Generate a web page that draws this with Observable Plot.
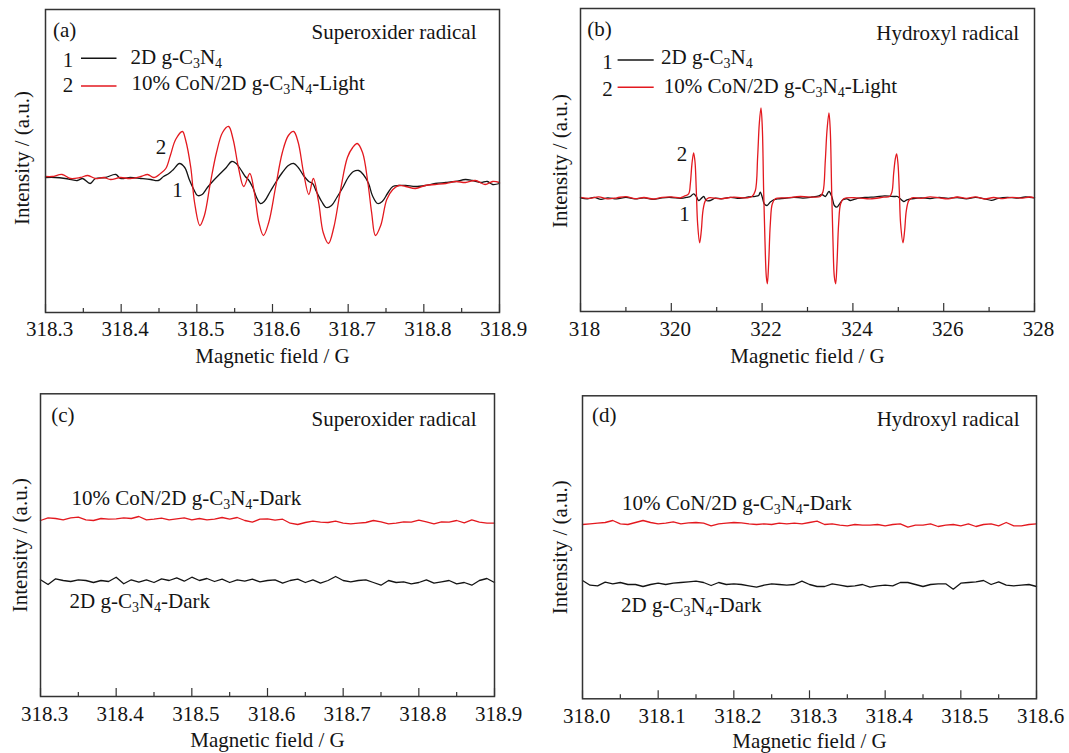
<!DOCTYPE html>
<html><head><meta charset="utf-8">
<script src="https://cdn.jsdelivr.net/npm/d3@7"></script>
<script src="https://cdn.jsdelivr.net/npm/@observablehq/plot@0.6"></script>
<style>
html,body{margin:0;padding:0;background:#fff;}
#root{position:relative;width:1069px;height:753px;overflow:hidden;background:#fff;}
#root > div{position:absolute;}
</style></head><body><div id="root"></div>
<script>
// ---------- Panel (a): superoxide radical, light ----------
const aRedField = [318.300,318.309,318.322,318.333,318.346,318.356,318.366,318.377,318.386,318.399,318.412,318.426,318.435,318.443,318.452,318.459,318.465,318.472,318.481,318.485,318.492,318.497,318.504,318.510,318.518,318.526,318.534,318.542,318.548,318.555,318.562,318.570,318.576,318.582,318.588,318.595,318.604,318.613,318.621,318.628,318.634,318.641,318.648,318.654,318.661,318.667,318.674,318.681,318.690,318.699,318.706,318.712,318.719,318.726,318.731,318.736,318.743,318.751,318.759,318.767,318.776,318.789,318.802,318.815,318.829,318.842,318.855,318.868,318.881,318.891,318.900];
const aRed = [1,1,3,-1,0,2,-1,0,-2,0,-1,1,3,0,4,9,22,38,46,38,10,-25,-48,-38,-5,25,45,51,38,10,-9,4,-15,-45,-58,-45,-10,25,42,46,35,5,-17,-1,-25,-55,-66,-50,-12,20,30,34,25,-5,-35,-58,-48,-22,-12,-8,-9,-11,-8,-7,-6,-4,-5,-3,-7,-4,-5];
const aBlackField = [318.300,318.313,318.326,318.342,318.349,318.359,318.366,318.379,318.393,318.399,318.412,318.426,318.439,318.449,318.456,318.463,318.469,318.477,318.484,318.490,318.496,318.501,318.507,318.514,318.522,318.531,318.539,318.546,318.552,318.558,318.564,318.568,318.574,318.579,318.584,318.589,318.597,318.605,318.613,318.621,318.628,318.634,318.641,318.648,318.653,318.658,318.665,318.671,318.678,318.685,318.693,318.700,318.707,318.714,318.720,318.727,318.732,318.739,318.745,318.752,318.759,318.767,318.776,318.789,318.802,318.815,318.829,318.842,318.855,318.864,318.875,318.884,318.891,318.900];
const aBlack = [0,0,-1,-3,-1,-6,-1,0,3,-1,0,-1,-2,-3,1,4,8,14,10,-2,-12,-18,-17,-10,-3,4,10,16,14,8,1,-2,-10,-20,-26,-24,-14,-4,5,12,14,10,2,-4,-6,-14,-24,-30,-28,-20,-10,0,6,7,3,-6,-18,-26,-24,-16,-9,-8,-8,-9,-8,-6,-5,-4,-2,-3,-5,-4,-7,-6];
const aCurveLabels = [{x: 318.4526, y: 30, label: "2"}, {x: 318.4745, y: -13, label: "1"}];

// ---------- Panel (b): hydroxyl radical, light ----------
const bRedField = [318.0,318.2,318.4,318.6,318.8,319.0,319.2,319.4,319.6,319.8,320.0,320.2,320.272,320.382,320.419,320.455,320.492,320.522,320.551,320.580,320.624,320.661,320.697,320.749,320.822,321.079,321.373,321.667,321.777,321.850,321.902,321.938,321.975,322.004,322.034,322.063,322.093,322.115,322.144,322.181,322.225,322.291,322.548,322.841,323.135,323.282,323.341,323.392,323.429,323.473,323.502,323.532,323.561,323.591,323.620,323.649,323.686,323.730,323.796,324.089,324.383,324.677,324.809,324.861,324.897,324.934,324.963,324.993,325.022,325.051,325.103,325.139,325.176,325.228,325.301,325.5,325.7,325.9,326.1,326.3,326.5,326.7,326.9,327.1,327.3,327.5,327.7,327.9,328.0];
const bRed = [0.5,-0.5,1,-1,0,1.2,-0.8,0.3,-1.2,0.5,1,0,1.3,4,14,34,45,36,7,-26,-45,-33,-13,-3,0,-1,0.6,0,1.3,7,41,74,90,71,7,-43,-79,-86,-66,-26,-6,-1,0,1.3,0.6,1.3,6,37,67,85,67,7,-43,-79,-86,-66,-26,-6,-1,0,-1,0.6,1.3,6,24,39,44,34,7,-26,-45,-33,-13,-3,0,-0.5,1,0,-1,0.8,-0.5,1,-1.2,0.3,-0.8,0.5,-0.3,0.8,0];
const bBlackField = [318.0,318.15,318.3,318.45,318.6,318.8,319.0,319.2,319.4,319.6,319.8,320.0,320.2,320.35,320.419,320.492,320.551,320.602,320.654,320.712,320.771,320.859,320.969,321.1,321.3,321.5,321.7,321.85,321.924,321.960,322.004,322.048,322.107,322.181,322.254,322.342,322.5,322.7,322.9,323.1,323.25,323.319,323.392,323.473,323.539,323.591,323.649,323.708,323.781,323.869,323.943,324.1,324.3,324.5,324.7,324.85,324.934,324.985,325.044,325.117,325.191,325.3,325.5,325.7,325.9,326.1,326.3,326.5,326.7,326.9,327.05,327.2,327.4,327.6,327.8,328.0];
const bBlack = [0,-1,0.5,-1.5,0,-1,0.5,-1,0,-1.5,0,0.3,-0.5,0.5,1.3,4,1.3,-2.7,-1,1.3,-2.7,-2.7,-0.3,-1,0.5,-0.5,0.8,1.5,2.3,5.6,0.6,-6,-7.7,-4.3,-2,-1,-0.5,0.5,-0.3,0.8,2,3.3,1.3,6.3,0.6,-7.7,-9.3,-6,-2,-1,-2.7,-0.5,0.5,1,2,1.5,1.3,1.3,-1,-3.7,-2,-1,0,-0.8,0.5,-0.5,0.3,-1,0.5,-1,-2.5,-0.5,0.5,-0.3,0.8,0];
const bCurveLabels = [{x: 320.236, y: 44, label: "2"}, {x: 320.293, y: -16.7, label: "1"}];

// ---------- Panel (c): superoxide radical, dark ----------
const cField = [318.30,318.31,318.32,318.33,318.34,318.35,318.36,318.37,318.38,318.39,318.40,318.41,318.42,318.43,318.44,318.45,318.46,318.47,318.48,318.49,318.50,318.51,318.52,318.53,318.54,318.55,318.56,318.57,318.58,318.59,318.60,318.61,318.62,318.63,318.64,318.65,318.66,318.67,318.68,318.69,318.70,318.71,318.72,318.73,318.74,318.75,318.76,318.77,318.78,318.79,318.80,318.81,318.82,318.83,318.84,318.85,318.86,318.87,318.88,318.89,318.90];
const cRed = [176,178.7,178,176.7,178.7,179.3,176.7,176,178,177.3,177.7,178.7,178,180,176.7,177.3,178.3,176.7,177.7,178.7,176.7,178,176.7,177.3,179,177.3,179,176,174.3,177.3,177.7,176.3,177.3,173.3,172,174,175.3,174.3,174,175.3,173.3,172.7,173.3,174,176,174.7,172.7,173.3,174.7,174.3,176.3,174.7,172.7,174.7,174.3,176,173.7,176.7,174.3,173.3,173.3];
const cBlack = [116.7,112,117.7,116,115,116.7,116,114,116,115,119.3,112.7,116.7,114.3,116.7,114,117.7,116,118.7,115.3,119.3,116,118,115,117.3,114,116.7,115.3,117.3,114.7,116,116.7,113.3,116,117.3,114,116.7,113.3,116,120,116,114.7,116,116.7,114,111.3,116,114,114.7,112.7,114,116.7,113.3,114.7,116,112.7,114,111.3,116,118,114];

// ---------- Panel (d): hydroxyl radical, dark ----------
const dField = [318.00,318.01,318.02,318.03,318.04,318.05,318.06,318.07,318.08,318.09,318.10,318.11,318.12,318.13,318.14,318.15,318.16,318.17,318.18,318.19,318.20,318.21,318.22,318.23,318.24,318.25,318.26,318.27,318.28,318.29,318.30,318.31,318.32,318.33,318.34,318.35,318.36,318.37,318.38,318.39,318.40,318.41,318.42,318.43,318.44,318.45,318.46,318.47,318.48,318.49,318.50,318.51,318.52,318.53,318.54,318.55,318.56,318.57,318.58,318.59,318.60];
const dRed = [174.3,175,175.6,176.3,178.3,175,174.3,176.3,178.3,176.3,175,175.6,177,175,176,176.3,175.6,173,175,175.6,176.3,176,175,174.3,175,174.3,175.6,175,175.6,175,176.3,177.6,174.3,175,173.6,173,174.3,173.6,173.6,174.3,173,174.3,175,171.6,173.6,173.6,175,172.3,173.6,174.3,173,175,172.3,174.3,175,173,176.3,173,173,174.3,175];
const dBlack = [118.3,113.6,113,116.6,115,116.3,114.3,114.3,112.3,114.3,115.6,114.3,115.6,116.3,117,117.6,116.3,113.3,116.3,114.3,115,114.3,113,111.6,113.6,115,114.3,113.6,114.3,117.6,114.3,112.3,112.3,115,113.6,112.3,113,114.3,111.6,113,113.6,113,116.3,116.3,114.3,112.3,114.3,115,115,109.6,115.6,116.3,117,118.3,114.3,117,113.6,113,113.6,114.3,112.3];

// ---------- Axis ticks ----------
const acMajor = [318.3,318.4,318.5,318.6,318.7,318.8,318.9];
const acMinor = [318.35,318.45,318.55,318.65,318.75,318.85];
const bMajor = [318,320,322,324,326,328];
const bMinor = [319,321,323,325,327];
const dMajor = [318.0,318.1,318.2,318.3,318.4,318.5,318.6];
const dMinor = [318.05,318.15,318.25,318.35,318.45,318.55];

// ---------- Texts ----------
const S1 = "2D g-C_3N_4";
const S2 = "10% CoN/2D g-C_3N_4-Light";
const S3 = "10% CoN/2D g-C_3N_4-Dark";
const S4 = "2D g-C_3N_4-Dark";
const YLAB = "Intensity / (a.u.)";
const XLAB = "Magnetic field / G";

const RED = "#e3191f", INK = "#141414", FRAME = "#333333";
const FONT = "'Liberation Serif', 'Times New Roman', serif";

function series(xs, ys) { return xs.map((x, i) => ({x, y: ys[i]})); }

const txt = (s, o) => Plot.text([s], {text: d => d, fontSize: 21, fill: INK, textAnchor: "start", lineAnchor: "bottom", frameAnchor: "top-left", ...o});

function legendLines(items) {
  return (index, scales, values, dims) => {
    const g = d3.create("svg:g");
    for (const it of items) {
      g.append("line")
        .attr("x1", dims.marginLeft + it.x1).attr("x2", dims.marginLeft + it.x2)
        .attr("y1", dims.marginTop + it.y).attr("y2", dims.marginTop + it.y)
        .attr("stroke", it.color).attr("stroke-width", 1.4);
    }
    return g.node();
  };
}

function subscriptify(svg) {
  d3.select(svg).selectAll("text").each(function () {
    const s = this.textContent;
    if (!s || s.indexOf("_") < 0) return;
    const parts = s.split(/_(\d)/);
    this.textContent = "";
    let shifted = false;
    parts.forEach((p, i) => {
      if (!p) return;
      const ts = d3.select(this).append("tspan").text(p);
      if (i % 2 === 1) { ts.attr("font-size", "14px").attr("dy", "4"); shifted = true; }
      else if (shifted) { ts.attr("dy", "-4"); shifted = false; }
    });
  });
}

function panel(cfg) {
  const {width, height, m, xDomain, yDomain, major, minor, fmt, tickPad, lines, curve, texts} = cfg;
  const innerH = height - m.top - m.bottom;
  const plot = Plot.plot({
    width, height,
    marginLeft: m.left, marginRight: m.right, marginTop: m.top, marginBottom: m.bottom,
    x: {domain: xDomain, axis: null},
    y: {domain: yDomain, axis: null},
    style: {fontFamily: FONT, fontSize: "21px", background: "white", color: INK, overflow: "visible"},
    marks: [
      ...lines.map(l => Plot.line(series(l.x, l.y), {x: "x", y: "y", stroke: l.color, strokeWidth: 1.3, curve})),
      Plot.tickX(minor, {x: d => d, stroke: FRAME, strokeWidth: 1.2, insetTop: innerH - 4}),
      Plot.tickX(major, {x: d => d, stroke: FRAME, strokeWidth: 1.2, insetTop: innerH - 8}),
      Plot.axisX(major, {tickFormat: fmt, tickSize: 0, tickPadding: tickPad, fontSize: 21, dx: 4, label: null, fill: INK}),
      Plot.frame({stroke: FRAME, strokeWidth: 1.5}),
      ...texts
    ]
  });
  subscriptify(plot);
  return plot;
}

const f1 = d3.format(".1f"), f0 = d3.format("d");

const panels = [
  {left: 0, top: 0, cfg: {
    width: 530, height: 376, m: {left: 45, right: 31, top: 9, bottom: 64},
    xDomain: [318.3, 318.9], yDomain: [-135, 168], major: acMajor, minor: acMinor, fmt: f1, tickPad: 8.5,
    curve: "catmull-rom",
    lines: [{x: aBlackField, y: aBlack, color: INK}, {x: aRedField, y: aRed, color: RED}],
    texts: [
      txt("(a)", {dx: 7.4, dy: 27.2}),
      txt("Superoxider radical", {frameAnchor: "top-right", textAnchor: "end", dx: -23, dy: 29}),
      txt("1", {textAnchor: "middle", dx: 22.6, dy: 57.7}),
      txt(S1, {dx: 85, dy: 54.3}),
      txt("2", {textAnchor: "middle", dx: 22.6, dy: 82.7}),
      txt(S2, {dx: 86, dy: 80.3}),
      legendLines([{x1: 36, x2: 71.5, y: 49.3, color: INK}, {x1: 36, x2: 71.5, y: 77, color: RED}]),
      Plot.text(aCurveLabels, {x: "x", y: "y", text: "label", fontSize: 21, fill: INK, textAnchor: "middle", lineAnchor: "middle"}),
      txt(YLAB, {frameAnchor: "left", rotate: -90, textAnchor: "middle", lineAnchor: "middle", dx: -23.4, dy: -3}),
      txt(XLAB, {frameAnchor: "bottom", textAnchor: "middle", lineAnchor: "middle", dy: 44})
    ]}},
  {left: 535, top: 0, cfg: {
    width: 534, height: 376, m: {left: 45, right: 35, top: 8, bottom: 65},
    xDomain: [318, 328], yDomain: [-113.7, 189.3], major: bMajor, minor: bMinor, fmt: f0, tickPad: 9.5,
    curve: "catmull-rom",
    lines: [{x: bBlackField, y: bBlack, color: INK}, {x: bRedField, y: bRed, color: RED}],
    texts: [
      txt("(b)", {dx: 6.7, dy: 27.5}),
      txt("Hydroxyl radical", {frameAnchor: "top-right", textAnchor: "end", dx: -15.3, dy: 31}),
      txt("1", {textAnchor: "middle", dx: 27, dy: 60.3}),
      txt(S1, {dx: 80.6, dy: 55.3}),
      txt("2", {textAnchor: "middle", dx: 27, dy: 87}),
      txt(S2, {dx: 83.3, dy: 84}),
      legendLines([{x1: 37.6, x2: 73.7, y: 52, color: INK}, {x1: 37.6, x2: 73.7, y: 79.3, color: RED}]),
      Plot.text(bCurveLabels, {x: "x", y: "y", text: "label", fontSize: 21, fill: INK, textAnchor: "middle", lineAnchor: "middle"}),
      txt(YLAB, {frameAnchor: "left", rotate: -90, textAnchor: "middle", lineAnchor: "middle", dx: -20.2, dy: 1}),
      txt(XLAB, {frameAnchor: "bottom", textAnchor: "middle", lineAnchor: "middle", dy: 45})
    ]}},
  {left: 0, top: 380, cfg: {
    width: 530, height: 373, m: {left: 40, right: 36, top: 13.3, bottom: 57},
    xDomain: [318.3, 318.9], yDomain: [0, 302.7], major: acMajor, minor: acMinor, fmt: f1, tickPad: 10,
    curve: "linear",
    lines: [{x: cField, y: cBlack, color: INK}, {x: cField, y: cRed, color: RED}],
    texts: [
      txt("(c)", {dx: 10.7, dy: 28}),
      txt("Superoxider radical", {frameAnchor: "top-right", textAnchor: "end", dx: -18, dy: 32.4}),
      txt(S3, {dx: 31, dy: 110.7}),
      txt(S4, {dx: 29, dy: 214}),
      txt(YLAB, {frameAnchor: "left", rotate: -90, textAnchor: "middle", lineAnchor: "middle", dx: -20, dy: 0}),
      txt(XLAB, {frameAnchor: "bottom", textAnchor: "middle", lineAnchor: "middle", dy: 43.5})
    ]}},
  {left: 535, top: 380, cfg: {
    width: 534, height: 373, m: {left: 47, right: 33, top: 15.3, bottom: 54.7},
    xDomain: [318.0, 318.6], yDomain: [0, 303], major: dMajor, minor: dMinor, fmt: f1, tickPad: 9.5,
    curve: "linear",
    lines: [{x: dField, y: dBlack, color: INK}, {x: dField, y: dRed, color: RED}],
    texts: [
      txt("(d)", {dx: 9.6, dy: 26}),
      txt("Hydroxyl radical", {frameAnchor: "top-right", textAnchor: "end", dx: -17, dy: 30.4}),
      txt(S3, {dx: 39.5, dy: 114}),
      txt(S4, {dx: 38.5, dy: 216.4}),
      txt(YLAB, {frameAnchor: "left", rotate: -90, textAnchor: "middle", lineAnchor: "middle", dx: -22.3, dy: 0}),
      txt(XLAB, {frameAnchor: "bottom", textAnchor: "middle", lineAnchor: "middle", dy: 42})
    ]}}
];

const root = document.getElementById("root");
for (const p of panels) {
  const div = document.createElement("div");
  div.style.left = p.left + "px";
  div.style.top = p.top + "px";
  div.style.width = p.cfg.width + "px";
  div.style.height = p.cfg.height + "px";
  div.appendChild(panel(p.cfg));
  root.appendChild(div);
}
</script></body></html>
